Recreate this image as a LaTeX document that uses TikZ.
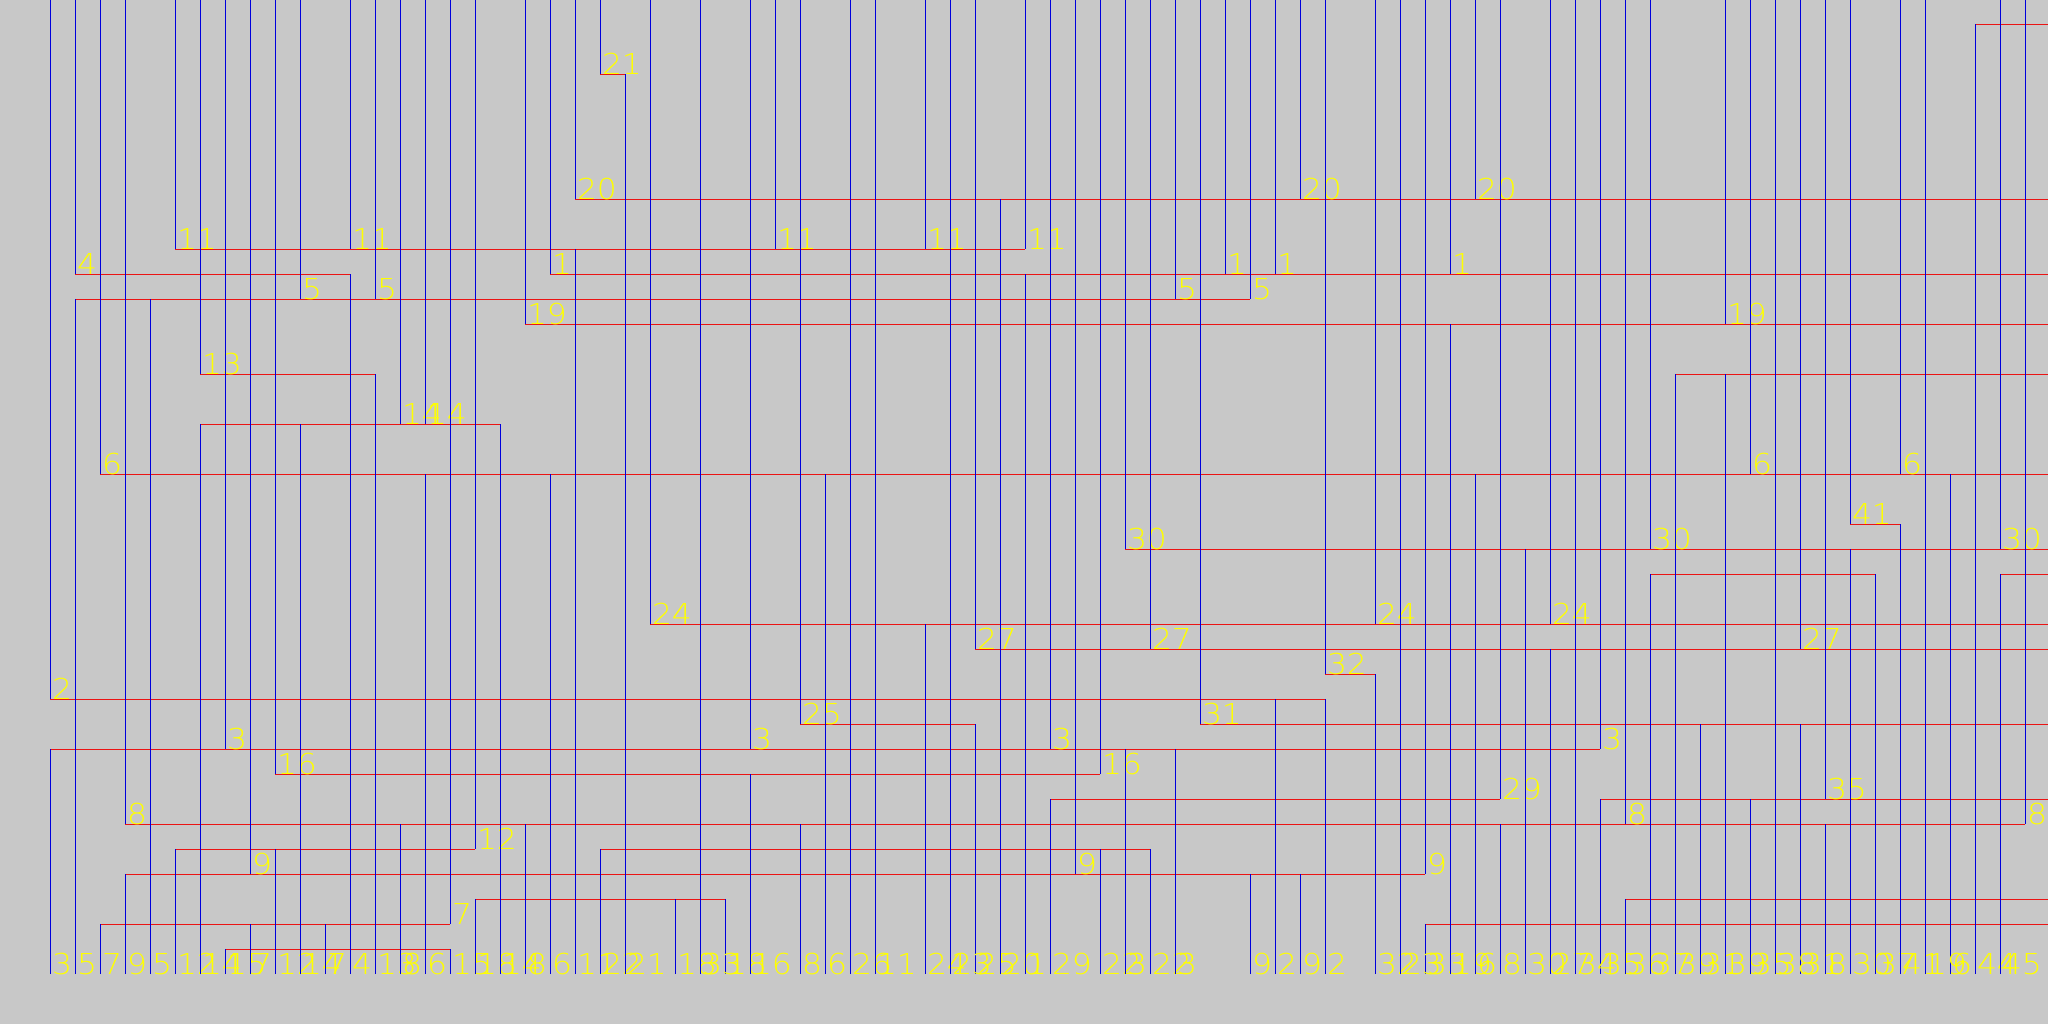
\documentclass[tikz,border=0pt]{standalone}
\usepackage{fontspec}
\IfFontExistsTF{DejaVu Sans ExtraLight}
  {\newfontfamily\lblfont{DejaVu Sans ExtraLight}[FakeStretch=1.09]}
  {\newfontfamily\lblfont{DejaVu Sans}[FakeStretch=1.09]}
\definecolor{bggray}{RGB}{200,200,200}
\definecolor{wblue}{RGB}{0,0,220}
\definecolor{wred}{RGB}{235,20,20}
\definecolor{wyel}{RGB}{255,255,0}
\tikzset{
  vwire/.style={draw=wblue,line width=1.35pt},
  hwire/.style={draw=wred,line width=1.35pt},
  lbl/.style={text=wyel,inner sep=0pt,anchor=base west,font=\lblfont\fontsize{28.8}{30}\selectfont}
}
\begin{document}
\begin{tikzpicture}[x=1pt,y=-1pt]
\useasboundingbox (0,0) rectangle (2048,1024);
\fill[bggray] (0,0) rectangle (2048,1024);
\clip (0,0) rectangle (2048,1024);
% horizontal tracks: track / first column / last column (82 = beyond right edge)
\foreach \j/\ka/\kb in {27/0/51, 29/0/62, 10/1/12, 11/1/48, 18/2/82, 36/2/16, 32/3/79,
  34/3/55, 9/5/39, 33/5/17, 14/6/13, 16/6/18, 37/7/16, 30/9/42, 35/17/27, 12/19/82,
  7/21/82, 2/22/23, 33/22/44, 24/24/82, 28/30/37, 25/37/82, 31/40/58, 21/43/82,
  28/46/82, 26/51/53, 31/62/82, 35/63/82, 22/64/73, 14/65/82, 20/72/74, 0/77/82,
  22/78/82, 10/20/82, 36/55/82}
  {\draw[hwire] ({50.3+25*\ka},{24.3+25*\j}) coordinate (ha\j-\ka) -- ({50.3+25*\kb},{24.3+25*\j}) coordinate (hb\j-\ka);}
% top pins: column / track / net
\foreach \k/\j/\n in {0/27/2, 1/10/4, 2/18/6, 3/32/8, 5/9/11, 6/14/13, 7/29/3, 8/34/9,
  9/30/16, 10/11/5, 12/9/11, 13/11/5, 14/16/14, 15/16/14, 16/36/7, 17/33/12, 19/12/19,
  20/10/1, 21/7/20, 22/2/21, 24/24/24, 28/29/3, 29/9/11, 30/28/25, 35/9/11, 37/25/27,
  39/9/11, 40/29/3, 41/34/9, 42/30/16, 43/21/30, 44/25/27, 45/11/5, 46/28/31, 47/10/1,
  48/11/5, 49/10/1, 50/7/20, 51/26/32, 53/24/24, 55/34/9, 56/10/1, 57/7/20, 58/31/29,
  60/24/24, 62/29/3, 63/32/8, 64/21/30, 67/12/19, 68/18/6, 70/25/27, 71/31/35, 72/20/41,
  74/18/6, 78/21/30, 79/32/8}
  {\coordinate (ts\k) at ({50.3+25*\k},0);
   \coordinate (te\k) at ({50.3+25*\k},{24.3+25*\j});
   \draw[vwire] (ts\k) -- (te\k);
   \node[lbl] (tl\k) at ({51.8+25*\k},{24.3+25*\j}) {\n};}
% bottom pins: column / track / net
\foreach \k/\j/\n in {0/29/3, 1/11/5, 2/36/7, 3/34/9, 4/11/5, 5/33/12, 6/16/14, 7/37/15,
  8/36/7, 9/33/12, 10/16/14, 11/36/7, 12/10/4, 13/14/13, 14/32/8, 15/18/6, 16/37/15,
  17/35/18, 18/16/14, 19/32/8, 20/18/6, 21/9/11, 22/33/22, 23/2/21, 25/35/18, 27/35/18,
  28/30/16, 30/32/8, 31/18/6, 35/24/24, 37/28/25, 38/7/20, 39/10/1, 40/31/29, 42/33/22,
  43/29/3, 44/33/22, 45/29/3, 48/34/9, 49/27/2, 50/34/9, 51/27/2, 53/26/32, 55/36/33,
  56/12/19, 57/18/6, 58/32/8, 59/21/30, 60/25/27, 62/31/35, 63/35/36, 64/22/37, 65/14/39,
  66/28/31, 67/14/39, 68/31/35, 70/28/31, 71/32/8, 72/21/30, 73/22/37, 74/20/41, 76/18/6,
  77/0/44, 78/22/45}
  {\coordinate (bs\k) at ({50.3+25*\k},974);
   \coordinate (be\k) at ({50.3+25*\k},{24.3+25*\j});
   \draw[vwire] (be\k) -- (bs\k);
   \node[lbl] (bl\k) at ({51.8+25*\k},974) {\n};}
% straight-through columns: column / net
\foreach \k/\n in {26/33, 32/26, 33/11, 36/23, 54/23, 61/34, 69/38, 75/19}
  {\coordinate (ss\k) at ({50.3+25*\k},0);
   \coordinate (sb\k) at ({50.3+25*\k},974);
   \draw[vwire] (ss\k) -- (sb\k);
   \node[lbl] (sl\k) at ({51.8+25*\k},974) {\n};}
\end{tikzpicture}
\end{document}
